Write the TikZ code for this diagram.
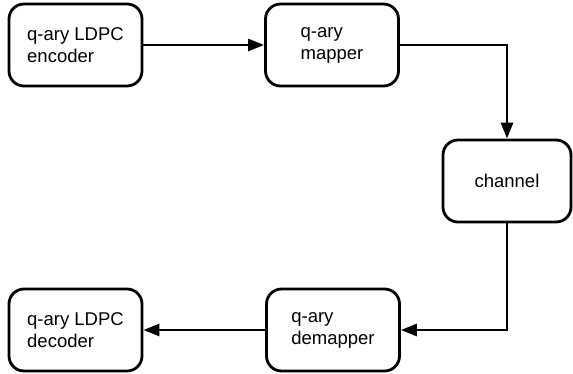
\documentclass[tikz,border=0pt]{standalone}
\usepackage{fontspec}
\setmainfont{Liberation Sans}
\usetikzlibrary{arrows.meta}

\begin{document}
\begin{tikzpicture}[x=1pt, y=-1pt,
    block/.style={draw, line width=2.8pt, rounded corners=15pt, minimum width=133pt, minimum height=82pt, align=left, font=\fontsize{18.5}{22}\selectfont},
    link/.style={line width=2.8pt, -{Triangle[length=16pt, width=12pt]}}]
	\useasboundingbox (0,0) rectangle (573,374);
	
	% Top row
	\node[block] (encoder) at (75.5,45) {q-ary LDPC\\encoder};
	\node[block] (mapper) at (332,45) {q-ary\\mapper};
	
	% Channel
	\node[block, minimum width=128pt] (channel) at (507,181) {channel};
	
	% Bottom row
	\node[block] (decoder) at (75.5,330) {q-ary LDPC\\decoder};
	\node[block] (demapper) at (333,330) {q-ary\\demapper};
	
	% Connections
	\draw[link] (encoder) -- (mapper);
	\draw[link] (mapper.east) -| (channel.north);
	\draw[link] (channel.south) |- (demapper.east);
	\draw[link] (demapper) -- (decoder);
\end{tikzpicture}
\end{document}
